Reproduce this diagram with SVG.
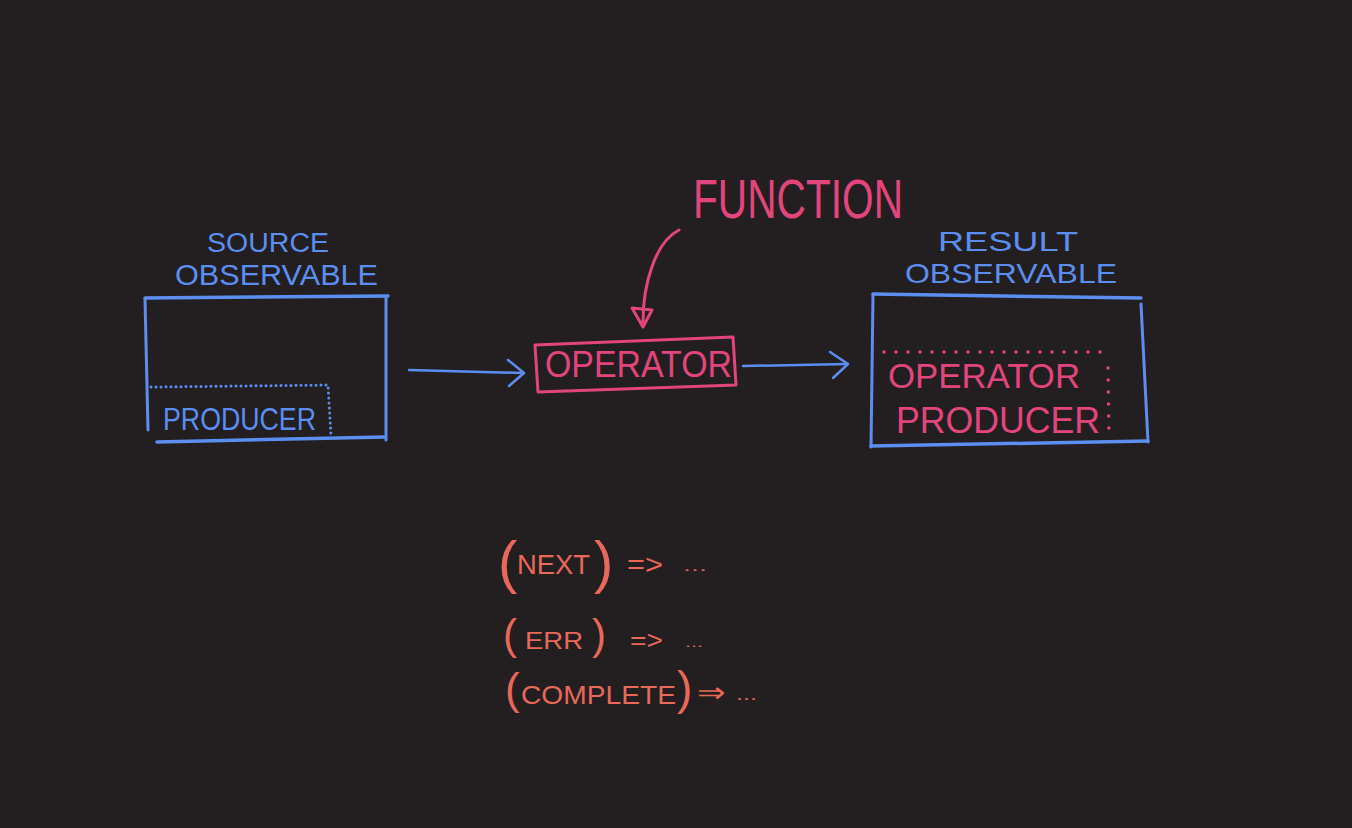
<svg xmlns="http://www.w3.org/2000/svg" width="1352" height="828" viewBox="0 0 1352 828">
<style>
.bg{fill:#231f20}
.blue{stroke:#5b8ef0;fill:none;stroke-linecap:round;stroke-linejoin:round}
.pink{stroke:#e2457e;fill:none;stroke-linecap:round;stroke-linejoin:round}
.tb{fill:#5b8ef0;font-family:"Liberation Sans",Arial,sans-serif}
.tp{fill:#e2457e;font-family:"Liberation Sans",Arial,sans-serif}
.ts{fill:#e8685a;font-family:"Liberation Sans",Arial,sans-serif}
.dotb{stroke:#5b8ef0;stroke-width:3;stroke-dasharray:0 5;stroke-linecap:round;fill:none}
.dotp{stroke:#e2457e;stroke-width:3.5;stroke-dasharray:0 12;stroke-linecap:round;fill:none}
</style>
<rect class="bg" x="0" y="0" width="1352" height="828"/>

<g id="source-observable">
  <text class="tb" x="207" y="252" font-size="27" textLength="122" lengthAdjust="spacingAndGlyphs">SOURCE</text>
  <text class="tb" x="175" y="285" font-size="29" textLength="203" lengthAdjust="spacingAndGlyphs">OBSERVABLE</text>
  <path class="blue" stroke-width="3.5" d="M145,298 L388,296"/>
  <path class="blue" stroke-width="3" d="M145,299 L148,430"/>
  <path class="blue" stroke-width="3" d="M386,298 L386,440"/>
  <path class="blue" stroke-width="3.5" d="M157,442 L385,437"/>
  <path class="dotb" d="M151,387 L328,385 L331,436"/>
  <text class="tb" x="163" y="430" font-size="32" textLength="153" lengthAdjust="spacingAndGlyphs">PRODUCER</text>
</g>

<g id="operator">
  <path class="pink" stroke-width="3" d="M535,345 L733,337 L736,385 L538,392 Z"/>
  <text class="tp" x="545" y="377" font-size="37" textLength="187" lengthAdjust="spacingAndGlyphs">OPERATOR</text>
</g>

<g id="function">
  <text class="tp" x="693" y="218" font-size="56" textLength="210" lengthAdjust="spacingAndGlyphs">FUNCTION</text>
</g>

<g id="result-observable">
  <text class="tb" x="938" y="251" font-size="27" textLength="140" lengthAdjust="spacingAndGlyphs">RESULT</text>
  <text class="tb" x="905" y="283" font-size="28" textLength="212" lengthAdjust="spacingAndGlyphs">OBSERVABLE</text>
  <path class="blue" stroke-width="3.5" d="M873,294 L1141,298"/>
  <path class="blue" stroke-width="3" d="M873,295 L871,447"/>
  <path class="blue" stroke-width="3" d="M1141,304 L1148,442"/>
  <path class="blue" stroke-width="3.5" d="M871,446 L1148,441"/>
  <path class="dotp" d="M884,352 L1104,352"/>
  <path class="dotp" d="M1108,368 L1109,437"/>
  <text class="tp" x="888" y="388" font-size="35" textLength="192" lengthAdjust="spacingAndGlyphs">OPERATOR</text>
  <text class="tp" x="896" y="433" font-size="36" textLength="204" lengthAdjust="spacingAndGlyphs">PRODUCER</text>
</g>

<g id="handlers">
  <text class="ts" x="498" y="582" font-size="58" font-weight="300">(</text>
  <text class="ts" x="517" y="574" font-size="28" textLength="73" lengthAdjust="spacingAndGlyphs">NEXT</text>
  <text class="ts" x="594" y="582" font-size="58">)</text>
  <text class="ts" x="627" y="574" font-size="28" textLength="36" lengthAdjust="spacingAndGlyphs">=&gt;</text>
  <text class="ts" x="683" y="571" font-size="14" textLength="24" lengthAdjust="spacingAndGlyphs">...</text>

  <text class="ts" x="503" y="649" font-size="42">(</text>
  <text class="ts" x="525" y="649" font-size="24" textLength="58" lengthAdjust="spacingAndGlyphs">ERR</text>
  <text class="ts" x="592" y="649" font-size="42">)</text>
  <text class="ts" x="630" y="649" font-size="26" textLength="33" lengthAdjust="spacingAndGlyphs">=&gt;</text>
  <text class="ts" x="685" y="647" font-size="13" textLength="18" lengthAdjust="spacingAndGlyphs">...</text>

  <text class="ts" x="505" y="704" font-size="44">(</text>
  <text class="ts" x="521" y="704" font-size="25" textLength="155" lengthAdjust="spacingAndGlyphs">COMPLETE</text>
  <text class="ts" x="677" y="704" font-size="46">)</text>
  <text class="ts" x="697" y="702" font-size="28" textLength="28" lengthAdjust="spacingAndGlyphs">⇒</text>
  <text class="ts" x="736" y="700" font-size="16" textLength="21" lengthAdjust="spacingAndGlyphs">...</text>
</g>

<g id="connectors">
  <path class="blue" stroke-width="2.5" d="M409,370 L523,373"/>
  <path class="blue" stroke-width="2.5" d="M508,360 L524,373 L509,386"/>
  <path class="blue" stroke-width="2.5" d="M743,366 L847,364"/>
  <path class="blue" stroke-width="2.5" d="M830,352 L848,364 L833,378"/>
  <path class="pink" stroke-width="3" d="M679,230 C655,242 643,285 643,322"/>
  <path class="pink" stroke-width="3" d="M632,308 L652,310 L643,327 Z"/>
</g>
</svg>
